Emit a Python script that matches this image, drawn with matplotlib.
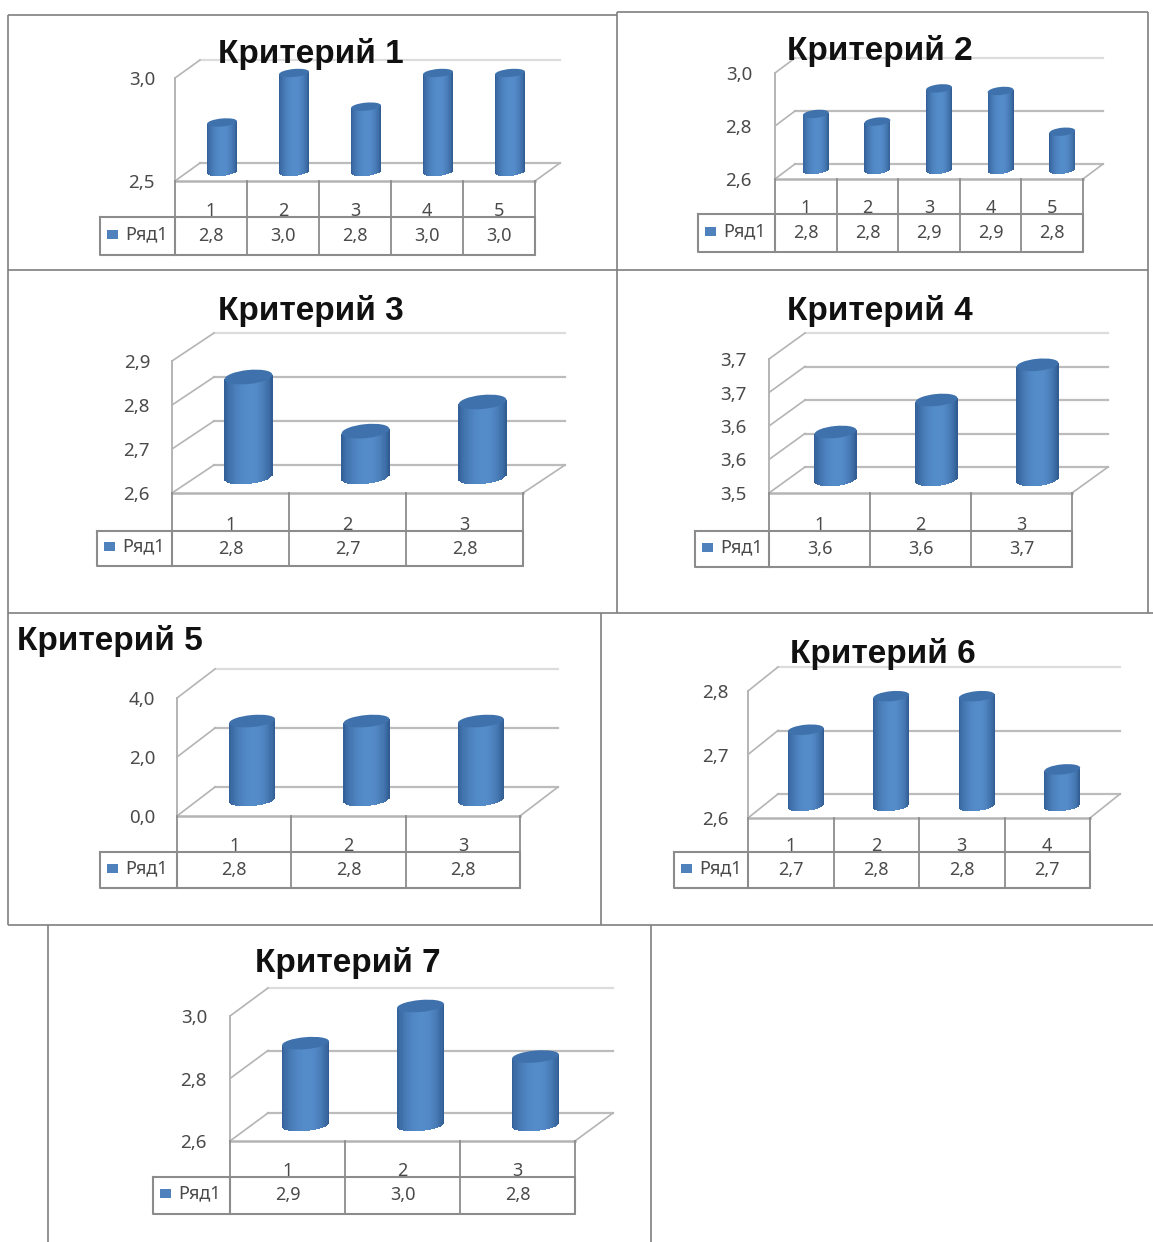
import numpy as np
import matplotlib
matplotlib.use("Agg")
import matplotlib.pyplot as plt
from matplotlib.lines import Line2D
from matplotlib.patches import Ellipse, Rectangle
from matplotlib.transforms import IdentityTransform

plt.rcParams['font.family'] = ['Noto Sans', 'DejaVu Sans']

titles = ["Критерий 1", "Критерий 2", "Критерий 3", "Критерий 4", "Критерий 5", "Критерий 6", "Критерий 7"]
series_name = "Ряд1"

values_1 = [2.75, 3.0, 2.83, 3.0, 3.0]
values_2 = [2.82, 2.79, 2.92, 2.91, 2.75]
values_3 = [2.84, 2.71, 2.78]
values_4 = [3.575, 3.625, 3.68]
values_5 = [2.82, 2.82, 2.82]
values_6 = [2.725, 2.78, 2.78, 2.66]
values_7 = [2.875, 3.0, 2.83]

ticks_1 = [2.5, 3.0]
ticks_2 = [2.6, 2.8, 3.0]
ticks_3 = [2.6, 2.7, 2.8, 2.9]
ticks_4 = [3.5, 3.55, 3.6, 3.65, 3.7]
ticks_5 = [0.0, 2.0, 4.0]
ticks_6 = [2.6, 2.7, 2.8]
ticks_7 = [2.6, 2.8, 3.0]

tick_labels_1 = ["2,5", "3,0"]
tick_labels_2 = ["2,6", "2,8", "3,0"]
tick_labels_3 = ["2,6", "2,7", "2,8", "2,9"]
tick_labels_4 = ["3,5", "3,6", "3,6", "3,7", "3,7"]
tick_labels_5 = ["0,0", "2,0", "4,0"]
tick_labels_6 = ["2,6", "2,7", "2,8"]
tick_labels_7 = ["2,6", "2,8", "3,0"]

W, H = 1153, 1242
fig = plt.figure(figsize=(W / 100, H / 100), dpi=100, facecolor="white")

# overlay in pixel coordinates for frame, titles, tables
ov = fig.add_axes([0, 0, 1, 1], zorder=10)
ov.set_xlim(0, W)
ov.set_ylim(H, 0)
ov.axis("off")
ov.patch.set_alpha(0)

FRAME = "#7f7f7f"
for xs, ys in [
    ((8, 617), (15, 15)), ((617, 1148), (12, 12)), ((8, 8), (15, 925)),
    ((617, 617), (12, 613)), ((1148, 1148), (12, 613)), ((8, 1148), (270, 270)),
    ((8, 1153), (613, 613)), ((601, 601), (613, 925)), ((8, 1153), (925, 925)),
    ((48, 48), (925, 1242)), ((651, 651), (925, 1242)),
]:
    ov.plot(xs, ys, color=FRAME, lw=1.2, solid_capstyle="butt")

TXT = "#4a4a4a"
TABLE = "#8c8c8c"
WALL = "#b4b4b4"
GRID = "#bcbcbc"


def px_axes(x0, ytop, x1, ybot, z):
    ax = fig.add_axes([x0 / W, 1 - ybot / H, (x1 - x0) / W, (ybot - ytop) / H], zorder=z)
    ax.patch.set_alpha(0)
    for s in ax.spines.values():
        s.set_visible(False)
    ax.set_xticks([])
    ax.set_yticks([])
    return ax


def shade(u):
    # u in -1..1 across the cylinder
    left = np.array([0.19, 0.36, 0.58])
    mid = np.array([0.33, 0.55, 0.79])
    right = np.array([0.18, 0.34, 0.55])
    t = (u + 1) / 2
    if t < 0.55:
        k = np.sin(t / 0.55 * np.pi / 2) ** 0.7
        return left + (mid - left) * k
    k = np.sin((1 - t) / 0.45 * np.pi / 2) ** 0.7
    return right + (mid - right) * k


def panel(vals, ticks, labels, title, title_xy, x0, ybot, x1, ytop, ddx, ddy,
          bdx, base, bw, ry, tab_l, tab_t, tab_b, tick_x):
    n = len(vals)
    ymin, ymax = ticks[0], ticks[-1]
    h = ybot - ytop

    # back wall with gridlines (ddy < 0 moves the wall up the page)
    back = px_axes(x0 + ddx, ytop + ddy, x1 + ddx, ybot + ddy, 1)
    back.set_xlim(0, n)
    back.set_ylim(ymin, ymax)
    for i, t in enumerate(ticks):
        back.axhline(t, color="#dcdcdc" if i == len(ticks) - 1 else GRID, lw=1.6, clip_on=False)

    # front plane: scale, left wall, tick labels
    front = px_axes(x0, ytop, x1, ybot, 2)
    front.set_xlim(0, n)
    front.set_ylim(ymin, ymax)
    front.set_yticks(ticks)
    front.set_yticklabels(labels, fontsize=13.5, color=TXT)
    front.tick_params(axis="y", length=0, pad=(x0 - tick_x) * 0.72)
    for t in ticks:
        px, py = front.transData.transform((0, t))
        front.add_line(Line2D([px, px + ddx], [py, py - ddy], transform=IdentityTransform(),
                              color=WALL, lw=1.2, clip_on=False))
    pr, pb = front.transData.transform((n, ymin))
    front.add_line(Line2D([pr, pr + ddx], [pb, pb - ddy], transform=IdentityTransform(),
                          color=WALL, lw=1.2, clip_on=False))
    front.plot([0, 0], [ymin, ymax], color=WALL, lw=1.4, clip_on=False)
    front.plot([0, n], [ymin, ymin], color=WALL, lw=1.8, clip_on=False)

    # bars on a mid-depth plane
    mid = px_axes(x0 + bdx, base - ry - (h - ry), x1 + bdx, base - ry, 3)
    mid.set_xlim(0, n)
    mid.set_ylim(ymin, ymax)
    unit_x = (x1 - x0) / n
    unit_y = (ymax - ymin) / (h - ry)
    hw = bw / 2 / unit_x
    tilt = ry * 0.35
    strips = 40
    edges = np.linspace(-1, 1, strips + 1)
    for i, v in enumerate(vals):
        for a, b in zip(edges[:-1], edges[1:]):
            u = (a + b) / 2
            bottom = ymin + (-ry * np.sqrt(1 - u ** 2) + tilt * u) * unit_y
            top = v + tilt * u * unit_y
            mid.bar(i + 0.5 + u * hw, top - bottom, width=(b - a) * hw * 1.15, bottom=bottom,
                    color=shade(u), linewidth=0, clip_on=False)
        cx, cy = mid.transData.transform((i + 0.5, v))
        mid.add_patch(Ellipse((cx, cy), bw, 2 * ry, angle=np.degrees(np.arctan2(tilt, bw / 2)),
                              transform=IdentityTransform(), facecolor="#3f72ad",
                              edgecolor="none", clip_on=False))

    # title
    ov.text(title_xy[0], title_xy[1] + 3, title, fontsize=24, fontweight="bold", color="#111111",
            family="Liberation Sans", ha="center", va="center")

    # data table
    cells = [x0 + (x1 - x0) * k / n for k in range(n + 1)]
    ov.plot([tab_l, x1, x1, tab_l, tab_l], [tab_t, tab_t, tab_b, tab_b, tab_t], color=TABLE, lw=1.5)
    ov.plot([x0, x0], [tab_t, tab_b], color=TABLE, lw=1.5)
    for cx in cells:
        ov.plot([cx, cx], [ybot, tab_b], color=TABLE, lw=1.3)
    for i, v in enumerate(vals):
        c = (cells[i] + cells[i + 1]) / 2
        ov.text(c, tab_t - 6, str(i + 1), fontsize=13, color=TXT, ha="center", va="center")
        ov.text(c, (tab_t + tab_b) / 2, f"{v:.1f}".replace(".", ","), fontsize=13, color=TXT,
                ha="center", va="center")
    ym = (tab_t + tab_b) / 2 - 2
    ov.add_patch(Rectangle((tab_l + 7, ym - 4.5), 11, 9, facecolor="#4f81bd", edgecolor="none"))
    ov.text(tab_l + 25, ym, series_name, fontsize=13, color=TXT, ha="left", va="center")


panel(values_1, ticks_1, tick_labels_1, titles[0], (311, 51), 175, 181, 535, 78, 25, -18,
      11, 176, 30, 4, 100, 217, 255, 155)
panel(values_2, ticks_2, tick_labels_2, titles[1], (880, 48), 775, 179, 1083, 73, 20, -15,
      10, 174, 26, 4, 698, 214, 252, 752)
panel(values_3, ticks_3, tick_labels_3, titles[2], (311, 308), 172, 493, 523, 361, 42, -28,
      18, 484, 48, 7, 97, 531, 566, 150)
panel(values_4, ticks_4, tick_labels_4, titles[3], (880, 308), 769, 493, 1072, 359, 36, -26,
      16, 486, 42, 6, 695, 531, 567, 747)
panel(values_5, ticks_5, tick_labels_5, titles[4], (110, 638), 177, 816, 520, 698, 38, -29,
      18, 806, 46, 6, 100, 852, 888, 155)
panel(values_6, ticks_6, tick_labels_6, titles[5], (883, 651), 748, 818, 1090, 691, 30, -24,
      15, 811, 36, 5, 674, 852, 888, 729)
panel(values_7, ticks_7, tick_labels_7, titles[6], (348, 960), 230, 1141, 575, 1016, 38, -28,
      18, 1131, 47, 6, 153, 1177, 1214, 207)

fig.savefig("out.png", dpi=100)
